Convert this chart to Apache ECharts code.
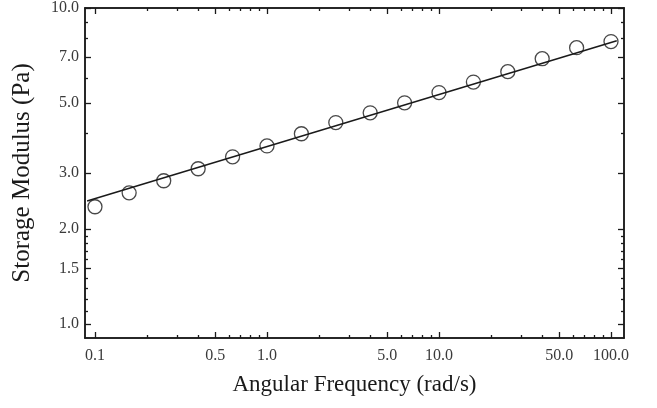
<!DOCTYPE html>
<html>
<head>
<meta charset="utf-8">
<script src="https://cdn.jsdelivr.net/npm/echarts@6/dist/echarts.min.js"></script>
<style>
  html, body { margin: 0; padding: 0; background: #fff; }
  #chart { width: 657px; height: 408px; }
</style>
</head>
<body>
<div id="chart"></div>
<script>
// Angular frequency sweep (rad/s) and measured storage modulus (Pa)
const frequency = [0.1, 0.158, 0.251, 0.398, 0.631, 1.0, 1.585, 2.512, 3.981, 6.31, 10.0, 15.85, 25.12, 39.81, 63.1, 100.0];
const storageModulus = [2.35, 2.60, 2.84, 3.10, 3.38, 3.66, 4.00, 4.34, 4.66, 5.01, 5.40, 5.83, 6.29, 6.91, 7.49, 7.83];

// Power-law fit line, given by its two end points
const fitFrequency = [0.09, 108];
const fitModulus = [2.45, 7.88];

// Axis ticks
const xMajorTicks = [0.1, 0.5, 1, 5, 10, 50, 100];
const xMinorTicks = [0.2, 0.3, 0.4, 0.6, 0.7, 0.8, 0.9, 2, 3, 4, 6, 7, 8, 9, 20, 30, 40, 60, 70, 80, 90];
const yMajorTicks = [1.0, 1.5, 2.0, 3.0, 5.0, 7.0, 10.0];
const yMinorTicks = [1.1, 1.2, 1.3, 1.4, 1.6, 1.7, 1.8, 1.9, 4, 6, 8, 9];

const xRange = [0.0875, 119];
const yRange = [0.903, 10];

const FONT = '"Liberation Serif", "Times New Roman", serif';
const INK = '#1a1a1a';

function logAxis(range, position, ticks, tickLen, opts) {
  return Object.assign({
    type: 'log',
    logBase: 10,
    min: range[0],
    max: range[1],
    position: position,
    axisLine: { show: true, lineStyle: { color: INK, width: 1.5 } },
    axisTick: { show: true, inside: true, length: tickLen, customValues: ticks,
                lineStyle: { color: INK, width: 1.3 } },
    axisLabel: { show: false },
    splitLine: { show: false },
    minorTick: { show: false },
    minorSplitLine: { show: false }
  }, opts || {});
}

const tickLabel = {
  show: true,
  fontFamily: FONT,
  fontSize: 16,
  color: '#3a3a3a',
  formatter: v => Number(v).toFixed(1)
};

const chart = echarts.init(document.getElementById('chart'), null, { renderer: 'canvas' });

chart.setOption({
  animation: false,
  backgroundColor: '#fff',
  grid: { left: 85, right: 33, top: 8, bottom: 70, containLabel: false },
  xAxis: [
    logAxis(xRange, 'bottom', xMajorTicks, 6, {
      axisLabel: Object.assign({}, tickLabel, { customValues: xMajorTicks, margin: 10 }),
      name: 'Angular Frequency (rad/s)',
      nameLocation: 'middle',
      nameGap: 35,
      nameTextStyle: { fontFamily: FONT, fontSize: 23, color: INK }
    }),
    logAxis(xRange, 'bottom', xMinorTicks, 3),
    logAxis(xRange, 'top', xMajorTicks, 6),
    logAxis(xRange, 'top', xMinorTicks, 3)
  ],
  yAxis: [
    logAxis(yRange, 'left', yMajorTicks, 6, {
      axisLabel: Object.assign({}, tickLabel, { customValues: yMajorTicks, margin: 6 }),
      name: 'Storage Modulus (Pa)',
      nameLocation: 'middle',
      nameGap: 50,
      nameTextStyle: { fontFamily: FONT, fontSize: 25, color: INK }
    }),
    logAxis(yRange, 'left', yMinorTicks, 3),
    logAxis(yRange, 'right', yMajorTicks, 6),
    logAxis(yRange, 'right', yMinorTicks, 3)
  ],
  series: [
    {
      name: 'Fit',
      type: 'line',
      xAxisIndex: 0,
      yAxisIndex: 0,
      data: fitFrequency.map((f, i) => [f, fitModulus[i]]),
      showSymbol: false,
      symbol: 'none',
      lineStyle: { color: INK, width: 1.5 },
      silent: true,
      z: 2
    },
    {
      name: 'Storage modulus',
      type: 'scatter',
      xAxisIndex: 0,
      yAxisIndex: 0,
      data: frequency.map((f, i) => [f, storageModulus[i]]),
      symbol: 'circle',
      symbolSize: 14,
      itemStyle: { color: 'rgba(0,0,0,0)', borderColor: INK, borderWidth: 1.3 },
      z: 3
    }
  ]
});
</script>
</body>
</html>
